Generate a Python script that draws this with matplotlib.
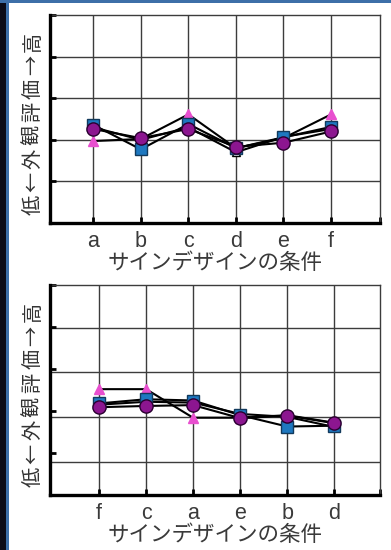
import numpy as np
import matplotlib
matplotlib.use("Agg")
import matplotlib.pyplot as plt
from matplotlib.patches import Rectangle

plt.rcParams['font.family'] = ['Noto Sans CJK JP', 'DejaVu Sans']

# ---- data ----
top_cats = ['a', 'b', 'c', 'd', 'e', 'f']
top_square = [2.36, 1.77, 2.38, 1.80, 2.06, 2.31]
top_tri = [1.97, 2.02, 2.61, 1.80, 2.04, 2.61]
top_circle = [2.26, 2.04, 2.26, 1.83, 1.93, 2.20]
top_open = [2.30, 2.00, 2.30, 1.70, 2.07, 2.26]

bottom_cats = ['f', 'c', 'a', 'e', 'b', 'd']
bottom_square = [2.18, 2.28, 2.25, 1.90, 1.63, 1.65]
bottom_tri = [2.52, 2.52, 1.84, 1.84, 1.90, 1.72]
bottom_circle = [2.09, 2.12, 2.14, 1.83, 1.89, 1.71]
bottom_open = [2.15, 2.22, 2.20, 1.93, 1.86, 1.62]

ylabel = '低←外観評価→高'
xlabel = 'サインデザインの条件'

fig = plt.figure(figsize=(3.91, 5.5), dpi=100)
fig.patch.set_facecolor('white')

# frame strips on the left / top edge
fig.patches.append(Rectangle((0, 0), 6 / 391, 1, transform=fig.transFigure,
                             facecolor='#0b0b16', edgecolor='none'))
fig.patches.append(Rectangle((6 / 391, 0), 2.5 / 391, 1, transform=fig.transFigure,
                             facecolor='#3d6fa8', edgecolor='none'))
fig.patches.append(Rectangle((0, 1 - 3 / 550), 1, 3 / 550, transform=fig.transFigure,
                             facecolor='#3d6fa8', edgecolor='none'))

ax_top = fig.add_axes([50 / 391, 1 - 223 / 550, 330 / 391, 208 / 550])
ax_bot = fig.add_axes([50 / 391, 1 - 495 / 550, 330 / 391, 210 / 550])


def draw_panel(ax, cats, sq, tri, circ, opn, xlim, hgrid):
    x = np.arange(len(cats))
    ax.set_xlim(*xlim)
    ax.set_ylim(0, 5)

    # grid
    for xv in x:
        ax.axvline(xv, color='#3c3c3c', lw=1.0, zorder=1)
    for yv in hgrid:
        ax.axhline(yv, color='#3c3c3c', lw=1.0, zorder=1)

    ax.plot(x, opn, color='black', lw=1.5, marker='^', ms=6,
            mfc='white', mec='black', mew=1.0, zorder=3)
    ax.plot(x, tri, color='black', lw=1.5, marker='^', ms=7,
            mfc='#e84fcf', mec='#e84fcf', zorder=4)
    ax.plot(x, sq, color='black', lw=1.5, marker='s', ms=8.5,
            mfc='#1e78c0', mec='#123a5c', mew=1.0, zorder=5)
    ax.plot(x, circ, color='black', lw=1.5, marker='o', ms=9.5,
            mfc='#8c1690', mec='#2a0030', mew=1.0, zorder=6)

    for s in ['top', 'right']:
        ax.spines[s].set_color('#3c3c3c')
        ax.spines[s].set_linewidth(1.0)
    for s in ['left', 'bottom']:
        ax.spines[s].set_color('black')
        ax.spines[s].set_linewidth(2.4)
        ax.spines[s].set_zorder(7)

    ax.set_xticks(x)
    ax.set_xticklabels(cats, fontsize=15.5, color='#3a3a3a',
                       family=['Liberation Sans', 'DejaVu Sans'])
    ax.set_xticks([xlim[1]], minor=True)
    ax.set_yticks([1, 2, 3, 4, 5])
    ax.set_yticklabels([])
    ax.tick_params(axis='x', which='both', direction='in', length=4,
                   width=2, color='black', pad=6)
    ax.tick_params(axis='y', direction='in', length=4, width=2, color='black')

    ax.set_xlabel(xlabel, fontsize=15.5, color='#3a3a3a', labelpad=0)

    # vertical axis label, spread along the axis like the original
    ys = np.linspace(0.085, 0.87, len(ylabel))
    for ch, yv in zip(ylabel, ys):
        ax.text(-0.052, yv, ch, transform=ax.transAxes, rotation=90,
                fontsize=14.5, color='#333333', ha='center', va='center')


draw_panel(ax_top, top_cats, top_square, top_tri, top_circle, top_open,
           (-0.91, 6.03), [1, 2, 3, 4])
draw_panel(ax_bot, bottom_cats, bottom_square, bottom_tri, bottom_circle,
           bottom_open, (-1.04, 5.97), [0.78, 1.86, 2.94, 3.98])

fig.savefig('out.png', dpi=100)
